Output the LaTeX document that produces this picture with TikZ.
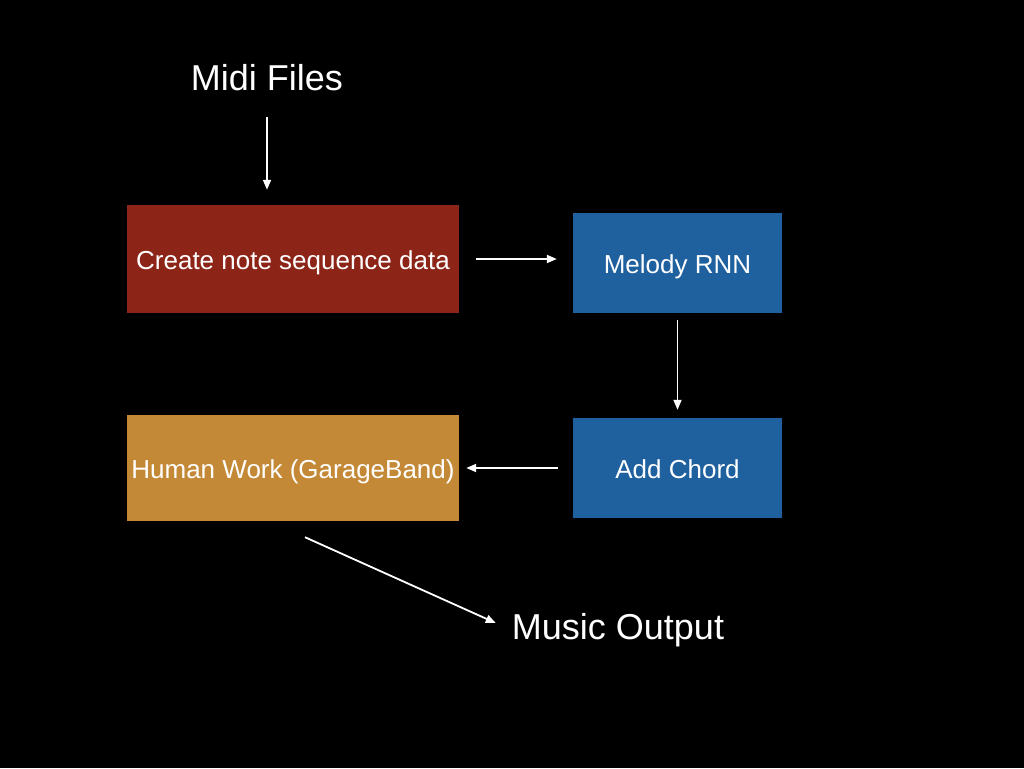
\documentclass[tikz,border=0pt]{standalone}
\usepackage{fontspec}
\setmainfont{Liberation Sans}
\usetikzlibrary{arrows.meta}
\definecolor{boxred}{HTML}{8C2418}
\definecolor{boxblue}{HTML}{1F609F}
\definecolor{boxorange}{HTML}{C48936}
\begin{document}
\begin{tikzpicture}[x=1pt,y=-1pt,
  box/.style={draw=none,inner sep=0pt,text=white,text height=20pt,text depth=0pt,font=\fontsize{26}{30}\selectfont},
  big/.style={text=white,inner sep=0pt,font=\fontsize{36}{42}\selectfont},
  arr/.style={draw=white,line width=1.8pt,-{Triangle[length=10pt,width=8pt]}}]
\fill[black] (0,0) rectangle (1024,768);
\useasboundingbox (0,0) rectangle (1024,768);
\node[box,fill=boxred,minimum width=332pt,minimum height=108pt] (create) at (293,259) {Create note sequence data};
\node[box,fill=boxblue,minimum width=209pt,minimum height=100pt] (melody) at (677.5,263) {Melody RNN};
\node[box,fill=boxblue,minimum width=209pt,minimum height=100pt] (chord) at (677.5,468) {Add Chord};
\node[box,fill=boxorange,minimum width=332pt,minimum height=106pt] (human) at (293,468) {Human Work (GarageBand)};
\node[big] (midi) at (267,78) {Midi Files};
\node[big] (music) at (618,630) {Music Output};
\draw[arr] ([yshift=-26pt]midi.south) -- ([yshift=15pt]create.north -| midi.south);
\draw[arr] ([xshift=17pt]create.east) -- ([xshift=-16pt]melody.west |- create.east);
\draw[arr] ([yshift=-7pt]melody.south) -- ([yshift=8pt]chord.north);
\draw[arr] ([xshift=-15pt]chord.west |- human.east) -- ([xshift=7pt]human.east);
\draw[arr] ([xshift=12pt,yshift=-16pt]human.south) -- ([xshift=-16pt,yshift=7pt]music.west);
\end{tikzpicture}
\end{document}
